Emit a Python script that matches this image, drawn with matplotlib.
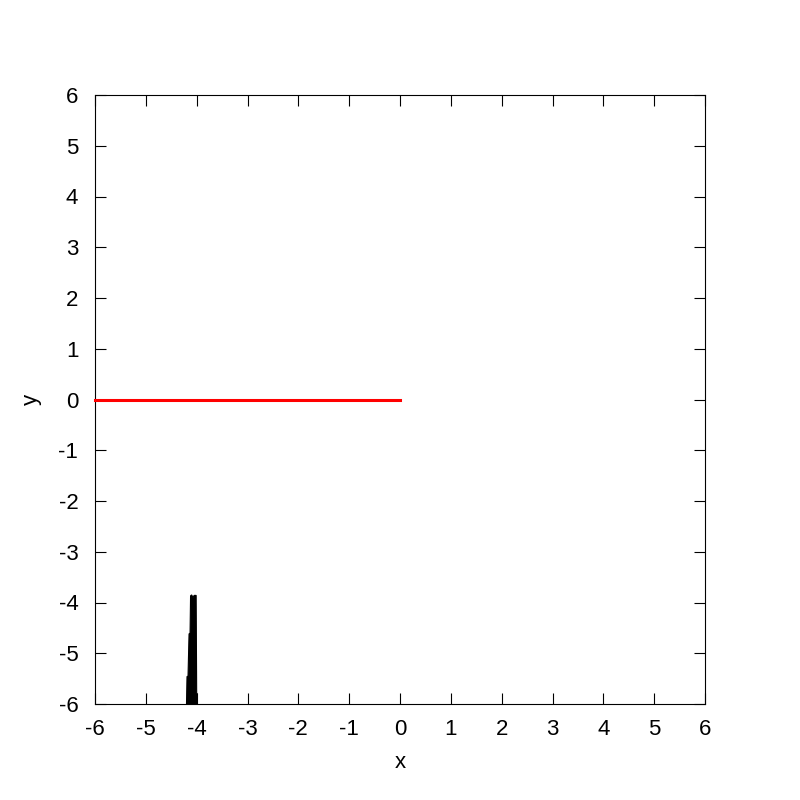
import matplotlib
matplotlib.use("Agg")
import matplotlib.pyplot as plt

plt.rcParams['font.family'] = ['Liberation Sans', 'DejaVu Sans']

# --- Données ---
ligne_x = [-6, 0]
ligne_y = [0, 0]

# contour de la forme noire près de x = -4
forme_x = [-4.20, -4.19, -4.17, -4.15, -4.13, -4.12, -4.10, -4.07, -4.05, -4.01, -4.00, -3.99, -3.99]
forme_y = [-6.0, -5.46, -5.45, -4.62, -4.60, -3.87, -3.85, -3.90, -3.86, -3.86, -5.78, -5.80, -6.0]

graduations = list(range(-6, 7))

fig = plt.figure(figsize=(8, 8), dpi=100)
ax = fig.add_axes([95 / 800, 96 / 800, 610 / 800, 609 / 800])

ax.fill(forme_x, forme_y, color="black", linewidth=0.8, edgecolor="black", zorder=2)
ax.plot(ligne_x, ligne_y, color="red", linewidth=2.2, zorder=3, clip_on=False)

# Mise en forme (style gnuplot)
ax.set_xlim(-6, 6)
ax.set_ylim(-6, 6)
ax.set_xticks(graduations)
ax.set_yticks(graduations)
ax.set_xticklabels([str(g) for g in graduations])
ax.set_yticklabels([str(g) for g in graduations])
ax.tick_params(direction="in", length=8, width=0.8, top=True, right=True, labelsize=16)
ax.tick_params(axis="x", pad=10.5)
ax.tick_params(axis="y", pad=12)
for s in ax.spines.values():
    s.set_linewidth(0.8)
ax.set_xlabel("x", fontsize=16, labelpad=9)
ax.set_ylabel("y", fontsize=16, labelpad=12)

fig.savefig("out.png", dpi=100)
